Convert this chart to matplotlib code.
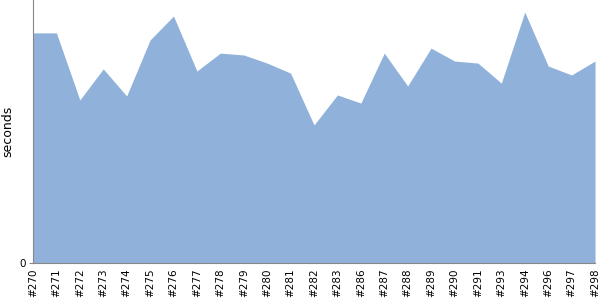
import numpy as np
from matplotlib import pyplot as plt

# build labels and durations (seconds)
builds = ['#270', '#271', '#272', '#273', '#274', '#275', '#276', '#277',
          '#278', '#279', '#280', '#281', '#282', '#283', '#286', '#287',
          '#288', '#289', '#290', '#291', '#293', '#294', '#296', '#297',
          '#298']
seconds = [87.5, 87.5, 62.0, 73.8, 63.5, 84.8, 93.9, 73.0,
           79.8, 79.1, 76.0, 72.2, 52.5, 63.9, 60.8, 79.8,
           67.3, 81.7, 76.8, 76.0, 68.4, 95.4, 74.9, 71.5,
           76.8]

x = np.arange(len(builds))

fig = plt.figure(figsize=(6, 3), dpi=100)
ax = fig.add_axes([0.055, 0.1233, 0.9367, 0.8767])
ax.fill_between(x, seconds, 0, color='#8fb1da', linewidth=0)
ax.set_xlim(0, len(builds) - 1)
ax.set_ylim(0, 100)

ax.set_xticks(x)
ax.set_xticklabels(builds, rotation=90, fontsize=7.5)
ax.set_yticks([0])
ax.set_yticklabels(['0'], fontsize=7.5)
ax.tick_params(axis='x', length=0, pad=4)
ax.tick_params(axis='y', length=3, color='#888888', pad=2)
ax.set_ylabel('seconds', fontsize=9)

#spines
for s in ['top', 'right']:
    ax.spines[s].set_visible(False)
for s in ['left', 'bottom']:
    ax.spines[s].set_color('#888888')

fig.savefig('out.png')
